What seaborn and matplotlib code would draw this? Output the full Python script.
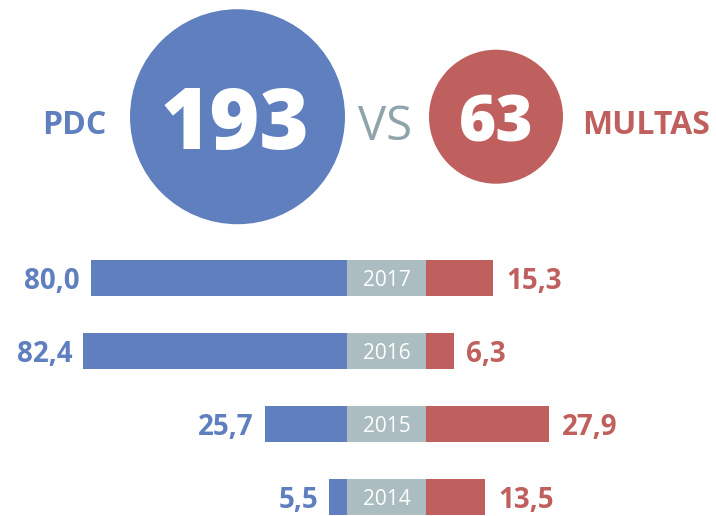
import matplotlib
matplotlib.use('Agg')
import matplotlib.pyplot as plt
import seaborn as sns

# data
years = ['2017', '2016', '2015', '2014']
pdc = [80.0, 82.4, 25.7, 5.5]
multas = [15.3, 6.3, 27.9, 13.5]
names = ['PDC', 'MULTAS']
totals = [193, 63]

blue = '#5f7fbf'
red = '#c0605e'
gray = '#abbdc0'
vs_color = '#8fa3ab'

sns.set_style('white')
plt.rcParams['font.family'] = ['Open Sans', 'DejaVu Sans']

fig = plt.figure(figsize=(7.16, 5.16), dpi=100)

#  top: the two circles
ax_top = fig.add_axes([0, 0.5476, 1, 0.4524])
sns.scatterplot(x=names, y=[0, 0], hue=names, size=totals,
                sizes=(96.5 ** 2, 154.8 ** 2), palette=[blue, red],
                linewidth=0, legend=False, ax=ax_top)
ax_top.set_xlim(-0.9188, 1.8511)
ax_top.set_ylim(-1, 1)
ax_top.axis('off')
for i, t in enumerate(totals):
    ax_top.text(i - 0.01 if i == 0 else i, 0, str(t), color='white',
                fontweight='heavy', fontsize=61 if i == 0 else 46,
                ha='center', va='center_baseline')

fig.text(0.1034, 0.7655, 'PDC', color=blue, fontsize=23, fontweight='bold',
         ha='center', va='center_baseline')
fig.text(0.5377, 0.7636, 'VS', color=vs_color, fontsize=34,
         ha='center', va='center_baseline')
fig.text(0.903, 0.7655, 'MULTAS', color=red, fontsize=23, fontweight='bold',
         ha='center', va='center_baseline')

#  bottom: the bars
bottom, height = -0.0339, 0.5659
ax_l = fig.add_axes([0, bottom, 347 / 716, height])
ax_m = fig.add_axes([347 / 716, bottom, 79 / 716, height])
ax_r = fig.add_axes([426 / 716, bottom, 290 / 716, height])

sns.barplot(x=pdc, y=years, orient='h', color=blue, saturation=1,
            width=0.493, linewidth=0, ax=ax_l)
ax_l.set_xlim(108.5, 0)
sns.barplot(x=[1] * len(years), y=years, orient='h', color=gray,
            saturation=1, width=0.493, linewidth=0, ax=ax_m)
ax_m.set_xlim(0, 1)
sns.barplot(x=multas, y=years, orient='h', color=red, saturation=1,
            width=0.493, linewidth=0, ax=ax_r)
ax_r.set_xlim(0, 65.8)

lbl = ax_l.bar_label(ax_l.containers[0],
                     labels=[f'{v:.1f}'.replace('.', ',') for v in pdc],
                     padding=8, color=blue, fontsize=20, fontweight='bold')
lbl += ax_r.bar_label(ax_r.containers[0],
                      labels=[f'{v:.1f}'.replace('.', ',') for v in multas],
                      padding=9, color=red, fontsize=20, fontweight='bold')
lbl += ax_m.bar_label(ax_m.containers[0], labels=years, label_type='center',
                      color='white', fontsize=15)
for t in lbl:
    t.set_va('center_baseline')

for ax in (ax_l, ax_m, ax_r):
    ax.set_ylim(3.5, -0.5)
    ax.axis('off')
    ax.patch.set_alpha(0)

fig.savefig('out.png', dpi=100)
